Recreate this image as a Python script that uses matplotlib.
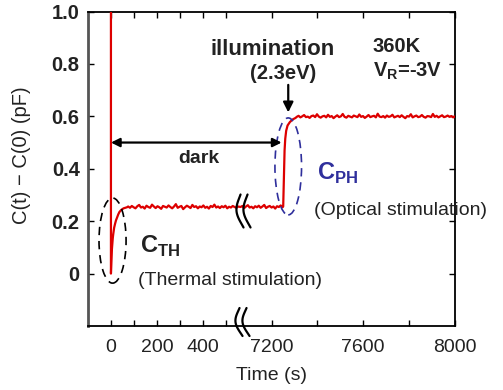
import numpy as np
import matplotlib
matplotlib.use("Agg")
import matplotlib.pyplot as plt
from matplotlib.patches import Ellipse, FancyArrowPatch
from matplotlib.scale import FuncScale

plt.rcParams['font.family'] = ['Liberation Sans', 'DejaVu Sans']
plt.rcParams['mathtext.fontset'] = 'custom'
plt.rcParams['mathtext.rm'] = 'Liberation Sans'
plt.rcParams['mathtext.bf'] = 'Liberation Sans:bold'

# ---------------- data ----------------
# thermal transient (dark), starting right after the bias pulse at t = 0
t_thermal = [0, 0, 2, 4, 6, 8, 10, 14, 18, 22, 27, 32, 37, 45, 55, 70]
c_thermal = [1.05, 0.0, 0.05, 0.09, 0.115, 0.135, 0.15, 0.175, 0.19, 0.203,
             0.215, 0.226, 0.235, 0.243, 0.249, 0.253]

# dark plateau, first time window (75 s .. 555 s)
c_dark1 = [0.256, 0.251, 0.258, 0.253, 0.249, 0.257, 0.262, 0.252, 0.255, 0.248,
           0.259, 0.254, 0.251, 0.263, 0.256, 0.250, 0.257, 0.253, 0.247, 0.258,
           0.255, 0.252, 0.260, 0.254, 0.249, 0.256, 0.265, 0.251, 0.255, 0.258,
           0.246, 0.253, 0.259, 0.255, 0.250, 0.262, 0.254, 0.257, 0.249, 0.256,
           0.253, 0.260, 0.251, 0.255, 0.248, 0.258, 0.254, 0.263, 0.252, 0.256,
           0.250, 0.257, 0.253, 0.259, 0.249, 0.255, 0.252, 0.258, 0.254, 0.251,
           0.256]
t_dark1_start, t_dark1_end = 75, 555

# dark plateau, second time window (7065 s .. 7248 s)
c_dark2 = [0.254, 0.258, 0.250, 0.256, 0.261, 0.252, 0.255, 0.249, 0.257, 0.253,
           0.259, 0.251, 0.256, 0.262, 0.250, 0.255, 0.258, 0.252, 0.256, 0.248,
           0.257, 0.254, 0.260, 0.253]
t_dark2_start, t_dark2_end = 7065, 7248

# photo transient (illumination 2.3 eV)
t_photo = [7251, 7254, 7257, 7260, 7264, 7270, 7280, 7292, 7305]
c_photo = [0.256, 0.36, 0.47, 0.515, 0.545, 0.565, 0.578, 0.588, 0.594]

# illuminated plateau (7310 s .. 8000 s)
c_light = [0.598, 0.602, 0.596, 0.600, 0.605, 0.597, 0.599, 0.594, 0.601, 0.603,
           0.597, 0.608, 0.599, 0.595, 0.600, 0.602, 0.596, 0.606, 0.598, 0.601,
           0.593, 0.599, 0.604, 0.597, 0.600, 0.609, 0.598, 0.595, 0.602, 0.599,
           0.596, 0.603, 0.600, 0.597, 0.607, 0.598, 0.601, 0.594, 0.599, 0.605,
           0.597, 0.600, 0.602, 0.596, 0.610, 0.599, 0.597, 0.601, 0.595, 0.603,
           0.598, 0.600, 0.606, 0.596, 0.599, 0.602, 0.597, 0.604, 0.598, 0.593,
           0.601, 0.599, 0.608, 0.596, 0.600, 0.603, 0.597, 0.599, 0.605, 0.598,
           0.595, 0.601, 0.600, 0.597, 0.609, 0.598, 0.602, 0.596, 0.600, 0.604,
           0.597, 0.599, 0.603, 0.598, 0.601, 0.596, 0.600]
t_light_start, t_light_end = 7310, 8000

x_tick_values = [0, 100, 200, 300, 400, 500, 7200, 7400, 7600, 7800, 8000]
x_tick_labels = ['0', '', '200', '', '400', '', '7200', '', '7600', '', '8000']
y_tick_values = [0, 0.2, 0.4, 0.6, 0.8, 1.0]
y_tick_labels = ['0', '0.2', '0.4', '0.6', '0.8', '1.0']

# axis break
BREAK_LO, BREAK_HI = 560, 7060

# ---------------- assemble series ----------------
t_all = np.concatenate([
    t_thermal,
    np.linspace(t_dark1_start, t_dark1_end, len(c_dark1)),
    np.linspace(t_dark2_start, t_dark2_end, len(c_dark2)),
    t_photo,
    np.linspace(t_light_start, t_light_end, len(c_light)),
])
c_all = np.concatenate([c_thermal, c_dark1, c_dark2, c_photo, c_light])


def fwd(t):
    t = np.asarray(t, dtype=float)
    return np.where(t < BREAK_LO, t,
                    np.where(t > BREAK_HI, t - (BREAK_HI - BREAK_LO), BREAK_LO))


def inv(x):
    x = np.asarray(x, dtype=float)
    return np.where(x < BREAK_LO, x, x + (BREAK_HI - BREAK_LO))


fig = plt.figure(figsize=(5.03, 3.90), dpi=100)
ax = fig.add_axes([88 / 503, 1 - 326 / 390, 367 / 503, 314.5 / 390])
ax.set_xscale(FuncScale(ax, (fwd, inv)))
ax.set_xlim(-100, 8000)
ax.set_ylim(-0.2, 1.0)

red = '#dd0000'
blue = '#2f2f9c'
txt = '#222222'

ax.plot(t_all, c_all, color=red, lw=1.6, zorder=3)

# ticks
ax.set_xticks(x_tick_values)
ax.set_xticklabels(x_tick_labels)
ax.set_yticks(y_tick_values)
ax.set_yticklabels(y_tick_labels)
ax.tick_params(axis='both', direction='in', length=4.5, width=1.0,
               top=True, right=True, colors='black')
ax.tick_params(axis='x', labelsize=14, pad=9, labelcolor=txt)
ax.tick_params(axis='y', labelsize=14.5, pad=6, labelcolor=txt)
for lab in ax.get_yticklabels():
    lab.set_fontweight('bold')
ax.minorticks_off()

for s in ['top', 'right', 'bottom']:
    ax.spines[s].set_linewidth(1.3)
    ax.spines[s].set_color('black')
ax.spines['left'].set_linewidth(2.0)
ax.spines['left'].set_color('#555555')

ax.set_xlabel('Time (s)', fontsize=14, color=txt, labelpad=8)
ax.set_ylabel('C(t) \u2212 C(0) (pF)', fontsize=14.5, color=txt)
ax.yaxis.set_label_coords(-0.155, 0.544)

# ellipses
ax.add_patch(Ellipse((7, 0.126), 118, 0.325, fill=False, ec='black',
                     lw=1.2, ls=(0, (5, 3.5)), zorder=4))
ax.add_patch(Ellipse((7273, 0.409), 116, 0.37, fill=False, ec=blue,
                     lw=1.2, ls=(0, (5, 3.5)), zorder=4))

# dark double arrow
ax.add_patch(FancyArrowPatch((0, 0.5), (7244, 0.5), arrowstyle='<|-|>',
                             mutation_scale=13, lw=1.6, color='black', zorder=5,
                             shrinkA=0, shrinkB=0))
ax.text(382, 0.422, 'dark', fontsize=14, fontweight='bold', color=txt,
        ha='center', va='baseline')

# illumination arrow and label
ax.add_patch(FancyArrowPatch((7273, 0.72), (7273, 0.615), arrowstyle='-|>',
                             mutation_scale=15, lw=1.6, color='black', zorder=5,
                             shrinkA=0, shrinkB=0))
ax.text(7206, 0.834, 'illumination', fontsize=16, fontweight='bold',
        color=txt, ha='center', va='baseline')
ax.text(7250, 0.743, '(2.3eV)', fontsize=14.5, fontweight='bold',
        color=txt, ha='center', va='baseline')

ax.text(7641, 0.847, '360K', fontsize=14.5, fontweight='bold', color=txt,
        ha='left', va='baseline')
ax.text(7641, 0.752, r'V$_{\mathbf{R}}$=-3V', fontsize=14.5, fontweight='bold',
        color=txt, ha='left', va='baseline')

ax.text(127, 0.079, r'C$_{\mathbf{TH}}$', fontsize=17, fontweight='bold',
        color=txt, ha='left', va='baseline')
ax.text(118, -0.042, '(Thermal stimulation)', fontsize=14, color=txt,
        ha='left', va='baseline')
ax.text(7399, 0.358, r'C$_{\mathbf{PH}}$', fontsize=17, fontweight='bold',
        color=blue, ha='left', va='baseline')
ax.text(7385, 0.225, '(Optical stimulation)', fontsize=14, color=txt,
        ha='left', va='baseline', clip_on=False)

# break marks (axes coordinates)
def break_mark(xc_px, yc_px, h_px):
    s = np.linspace(0, 1, 40)
    for dx in (-3.5, 3.5):
        xs = (xc_px + dx) + 0.5 * (0.5 - s) * 6 - 4.0 * np.sin(1.25 * np.pi * s - 0.125 * np.pi)
        ys = yc_px + (0.5 - s) * h_px
        ax.plot((xs - 88) / 367, (326 - ys) / 314.5, color='black', lw=1.6,
                transform=ax.transAxes, clip_on=False, zorder=6,
                solid_capstyle='round')

break_mark(244, 211, 33)
break_mark(243, 322, 28)

fig.savefig('out.png', dpi=100)
